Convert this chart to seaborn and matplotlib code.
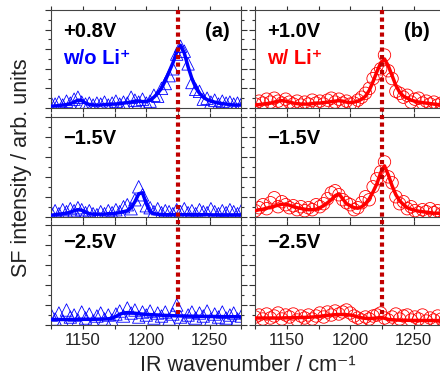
import numpy as np
import matplotlib
matplotlib.use("Agg")
import matplotlib.pyplot as plt
import matplotlib.transforms as mtransforms
from matplotlib.lines import Line2D
from matplotlib.ticker import MultipleLocator
import seaborn as sns

# wavenumber grid (cm-1)
wn = [1125, 1128, 1131, 1134, 1137, 1140, 1143, 1146, 1149, 1152,
      1155, 1158, 1161, 1164, 1167, 1170, 1173, 1176, 1179, 1182,
      1185, 1188, 1191, 1194, 1197, 1200, 1203, 1206, 1209, 1212,
      1215, 1218, 1221, 1224, 1227, 1230, 1233, 1236, 1239, 1242,
      1245, 1248, 1251, 1254, 1257, 1260, 1263, 1266, 1269, 1272, 1275]

# (a) w/o Li+  -- measured points (triangles) and fits
pts_a1 = [0.05, 0.04, 0.06, 0.03, 0.07, 0.05, 0.09, 0.11, 0.06, 0.04,
          0.05, 0.03, 0.05, 0.04, 0.06, 0.03, 0.05, 0.07, 0.04, 0.06,
          0.05, 0.11, 0.08, 0.06, 0.09, 0.05, 0.07, 0.13, 0.12, 0.20,
          0.25, 0.33, 0.40, 0.55, 0.63, 0.58, 0.45, 0.26, 0.19, 0.17,
          0.09, 0.10, 0.06, 0.08, 0.04, 0.07, 0.05, 0.06, 0.04, 0.05, 0.04]
fit_a1 = [0.020, 0.020, 0.025, 0.030, 0.035, 0.045, 0.060, 0.080, 0.075, 0.050,
          0.035, 0.030, 0.030, 0.030, 0.035, 0.035, 0.040, 0.040, 0.045, 0.050,
          0.055, 0.060, 0.070, 0.070, 0.065, 0.065, 0.080, 0.110, 0.150, 0.200,
          0.280, 0.370, 0.460, 0.570, 0.640, 0.560, 0.420, 0.300, 0.210, 0.150,
          0.110, 0.085, 0.070, 0.060, 0.050, 0.045, 0.040, 0.035, 0.030, 0.030, 0.030]
pts_a2 = [0.04, 0.06, 0.03, 0.07, 0.05, 0.08, 0.06, 0.09, 0.07, 0.04,
          0.06, 0.03, 0.02, 0.05, 0.03, 0.06, 0.04, 0.07, 0.05, 0.10,
          0.12, 0.08, 0.17, 0.30, 0.22, 0.11, 0.09, 0.05, 0.08, 0.04,
          0.06, 0.05, 0.03, 0.07, 0.05, 0.08, 0.04, 0.06, 0.03, 0.07,
          0.05, 0.04, 0.08, 0.05, 0.03, 0.06, 0.04, 0.07, 0.05, 0.03, 0.06]
fit_a2 = [0.015, 0.020, 0.025, 0.030, 0.035, 0.045, 0.060, 0.070, 0.065, 0.045,
          0.030, 0.025, 0.025, 0.025, 0.025, 0.030, 0.030, 0.035, 0.040, 0.050,
          0.060, 0.090, 0.150, 0.230, 0.240, 0.130, 0.050, 0.030, 0.025, 0.020,
          0.020, 0.020, 0.020, 0.020, 0.020, 0.020, 0.020, 0.020, 0.020, 0.020,
          0.020, 0.020, 0.018, 0.018, 0.018, 0.018, 0.018, 0.018, 0.018, 0.018, 0.018]
pts_a3 = [0.10, 0.06, 0.12, 0.04, 0.15, 0.08, 0.10, 0.05, 0.13, 0.07,
          0.11, 0.04, 0.09, 0.12, 0.06, 0.10, 0.05, 0.11, 0.14, 0.09,
          0.17, 0.12, 0.15, 0.08, 0.13, 0.10, 0.14, 0.07, 0.12, 0.09,
          0.13, 0.06, 0.11, 0.20, 0.08, 0.04, 0.10, 0.13, 0.07, 0.12,
          0.09, 0.14, 0.06, 0.11, 0.08, 0.13, 0.07, 0.10, 0.12, 0.06, 0.09]
fit_a3 = [0.055, 0.055, 0.055, 0.055, 0.055, 0.056, 0.056, 0.056, 0.057, 0.057,
          0.057, 0.058, 0.058, 0.059, 0.060, 0.062, 0.068, 0.085, 0.108, 0.120,
          0.124, 0.122, 0.118, 0.113, 0.109, 0.106, 0.104, 0.102, 0.100, 0.098,
          0.096, 0.095, 0.093, 0.092, 0.091, 0.090, 0.089, 0.088, 0.087, 0.087,
          0.086, 0.086, 0.085, 0.085, 0.084, 0.084, 0.083, 0.083, 0.083, 0.082, 0.082]

# (b) w/ Li+  -- measured points (circles) and fits
pts_b1 = [0.04, 0.07, 0.05, 0.09, 0.06, 0.10, 0.07, 0.05, 0.09, 0.06,
          0.04, 0.07, 0.03, 0.06, 0.04, 0.08, 0.05, 0.07, 0.04, 0.08,
          0.10, 0.06, 0.09, 0.05, 0.07, 0.04, 0.05, 0.08, 0.11, 0.15,
          0.20, 0.30, 0.35, 0.40, 0.54, 0.38, 0.30, 0.17, 0.15, 0.11,
          0.13, 0.06, 0.09, 0.10, 0.05, 0.07, 0.04, 0.06, 0.03, 0.05, 0.04]
fit_b1 = [0.030, 0.035, 0.040, 0.045, 0.050, 0.060, 0.070, 0.075, 0.070, 0.060,
          0.050, 0.045, 0.040, 0.040, 0.040, 0.045, 0.050, 0.050, 0.055, 0.060,
          0.065, 0.070, 0.075, 0.070, 0.060, 0.055, 0.060, 0.070, 0.090, 0.120,
          0.180, 0.270, 0.370, 0.460, 0.500, 0.430, 0.330, 0.230, 0.160, 0.120,
          0.100, 0.080, 0.070, 0.060, 0.055, 0.050, 0.045, 0.040, 0.035, 0.030, 0.030]
pts_b2 = [0.06, 0.09, 0.12, 0.08, 0.14, 0.19, 0.10, 0.15, 0.12, 0.09,
          0.11, 0.07, 0.10, 0.06, 0.09, 0.07, 0.12, 0.10, 0.13, 0.18,
          0.24, 0.26, 0.22, 0.17, 0.14, 0.12, 0.07, 0.09, 0.14, 0.20,
          0.17, 0.30, 0.38, 0.45, 0.55, 0.40, 0.34, 0.20, 0.13, 0.15,
          0.08, 0.10, 0.06, 0.04, 0.07, 0.05, 0.08, 0.04, 0.06, 0.03, 0.05]
fit_b2 = [0.060, 0.070, 0.075, 0.085, 0.095, 0.105, 0.115, 0.125, 0.125, 0.115,
          0.100, 0.090, 0.083, 0.075, 0.070, 0.070, 0.075, 0.090, 0.110, 0.140,
          0.170, 0.210, 0.230, 0.180, 0.130, 0.110, 0.090, 0.085, 0.100, 0.130,
          0.180, 0.250, 0.330, 0.440, 0.510, 0.420, 0.310, 0.220, 0.160, 0.120,
          0.090, 0.075, 0.065, 0.055, 0.050, 0.045, 0.040, 0.035, 0.035, 0.030, 0.030]
pts_b3 = [0.08, 0.10, 0.06, 0.11, 0.07, 0.09, 0.12, 0.06, 0.10, 0.08,
          0.11, 0.05, 0.09, 0.07, 0.10, 0.06, 0.09, 0.12, 0.08, 0.13,
          0.10, 0.14, 0.11, 0.13, 0.15, 0.12, 0.09, 0.07, 0.05, 0.08,
          0.06, 0.09, 0.10, 0.12, 0.07, 0.05, 0.08, 0.11, 0.06, 0.09,
          0.10, 0.05, 0.08, 0.06, 0.10, 0.04, 0.07, 0.05, 0.09, 0.06, 0.05]
fit_b3 = [0.070, 0.070, 0.070, 0.070, 0.070, 0.070, 0.070, 0.070, 0.072, 0.072,
          0.073, 0.074, 0.075, 0.076, 0.078, 0.080, 0.083, 0.087, 0.092, 0.097,
          0.100, 0.103, 0.105, 0.105, 0.103, 0.100, 0.092, 0.080, 0.072, 0.067,
          0.065, 0.067, 0.070, 0.075, 0.068, 0.056, 0.052, 0.050, 0.049, 0.048,
          0.047, 0.047, 0.046, 0.046, 0.045, 0.045, 0.045, 0.045, 0.044, 0.044, 0.044]

potentials_a = ["+0.8V", "\u22121.5V", "\u22122.5V"]
potentials_b = ["+1.0V", "\u22121.5V", "\u22122.5V"]
peak_pos = 1225

sns.set_style("ticks")
plt.rcParams["font.family"] = ["Liberation Sans", "DejaVu Sans"]

fig = plt.figure(figsize=(4.4, 3.76), dpi=100)

col_x = [0.1166, 0.5802]
col_w = 0.4318
row_y = [0.7128, 0.4237, 0.1356]
row_h = [0.2606, 0.2650, 0.2660]

columns = [
    dict(pts=[pts_a1, pts_a2, pts_a3], fit=[fit_a1, fit_a2, fit_a3], color="#0000ff",
         marker="^", pots=potentials_a, tag="(a)", tag_x=0.94, sample="w/o Li\u207a"),
    dict(pts=[pts_b1, pts_b2, pts_b3], fit=[fit_b1, fit_b2, fit_b3], color="#ff0000",
         marker="o", pots=potentials_b, tag="(b)", tag_x=0.92, sample="w/ Li\u207a"),
]

for c, col in enumerate(columns):
    for r in range(3):
        ax = fig.add_axes([col_x[c], row_y[r], col_w, row_h[r]])
        sns.scatterplot(x=wn, y=col["pts"][r], marker=col["marker"], s=80,
                        facecolors="none", edgecolor=col["color"], linewidth=0.6,
                        ax=ax, zorder=2)
        sns.lineplot(x=wn, y=col["fit"][r], color=col["color"], linewidth=2.5,
                     ax=ax, zorder=3)
        ax.set_xlim(1125, 1275)
        ax.set_ylim(0, 1)
        ax.xaxis.set_major_locator(MultipleLocator(50))
        ax.xaxis.set_minor_locator(MultipleLocator(25))
        ax.yaxis.set_major_locator(MultipleLocator(0.2))
        ax.yaxis.set_minor_locator(MultipleLocator(0.1))
        ax.tick_params(axis="x", which="both", direction="out", length=3, width=0.8,
                       top=True, colors="#333333", labelsize=12, pad=3,
                       labelbottom=(r == 2))
        ax.tick_params(axis="y", which="major", direction="out", length=4, width=0.8,
                       right=True, colors="#333333", labelleft=False)
        ax.tick_params(axis="y", which="minor", direction="out", length=2.5, width=0.8,
                       right=True, colors="#333333")
        ax.tick_params(axis="x", labelcolor="#222222")
        for s in ax.spines.values():
            s.set_linewidth(0.8)
            s.set_color("#444444")
        ax.set_xlabel("")
        ax.set_ylabel("")
        ax.text(0.062, 0.78 if r < 2 else 0.83, col["pots"][r], transform=ax.transAxes,
                fontsize=14.5, fontweight="bold", color="black", ha="left", va="center")
        if r == 0:
            ax.text(0.062, 0.50, col["sample"], transform=ax.transAxes, fontsize=14.5,
                    fontweight="bold", color=col["color"], ha="left", va="center")
            ax.text(col["tag_x"], 0.78, col["tag"], transform=ax.transAxes, fontsize=14.5,
                    fontweight="bold", color="black", ha="right", va="center")
            top_ax = ax
    # dotted marker line at the main peak, running through the three panels
    trans = mtransforms.blended_transform_factory(top_ax.transData, fig.transFigure)
    fig.add_artist(Line2D([peak_pos, peak_pos], [0.973, 0.164], transform=trans,
                          color="#c00000", linewidth=3, linestyle=(0, (1, 0.8)),
                          solid_capstyle="butt", dash_capstyle="butt", zorder=5))

fig.text(0.5625, 0.029, "IR wavenumber / cm\u207b\u00b9", fontsize=15.5,
         ha="center", va="center", color="#222222")
fig.text(0.05, 0.554, "SF intensity / arb. units", fontsize=15.5, rotation=90,
         ha="center", va="center", color="#222222")

fig.savefig("out.png", dpi=100)
